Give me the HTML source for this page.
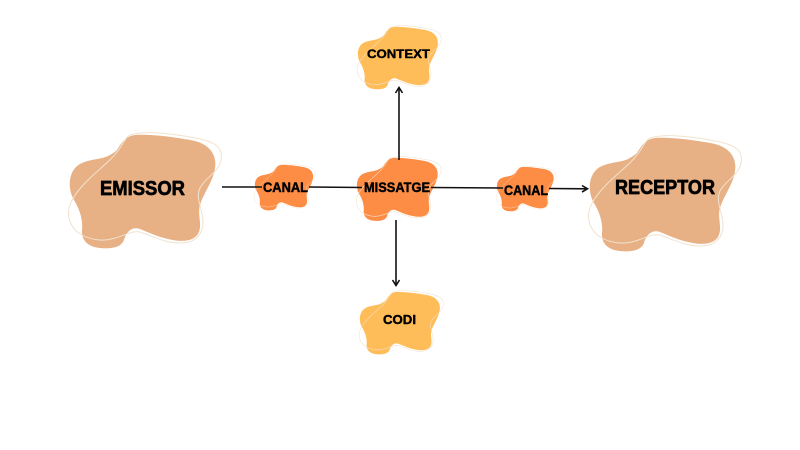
<!DOCTYPE html>
<html>
<head>
<meta charset="utf-8">
<style>
html,body{margin:0;padding:0;background:#fff;}
svg{display:block;}
text{font-family:"Liberation Sans",sans-serif;font-weight:bold;fill:#000;stroke:#000;stroke-linejoin:round;}
</style>
</head>
<body>
<svg width="800" height="450" viewBox="0 0 800 450" xmlns="http://www.w3.org/2000/svg">
<defs>
  <path id="fillBlob" d="M 117,150 C 122,142 126,136 135,135 C 150,134 175,137 195,141 C 210,145 217,155 215,168 C 213,182 204,192 200,205 C 197,215 203,225 198,234 C 193,242 180,242 168,239 C 158,237 150,233 140,229 C 132,226 126,232 124,240 C 121,248 110,249 100,248 C 88,247 81,240 82,230 C 83,220 80,210 74,200 C 68,190 68,175 76,167 C 84,159 100,160 108,156 C 112,154 115,152 117,150 Z"/>
  <path id="lineBlob" d="M 130,135 C 145,130 175,134 195,138 C 212,141 224,146 221,160 C 219,172 205,178 200,188 C 195,198 203,210 203,222 C 203,235 195,243 180,243 C 165,243 152,236 140,232 C 128,230 118,241 100,240 C 85,239 72,232 69,218 C 66,205 76,192 88,180 C 100,168 112,160 120,148 C 124,142 126,137 130,135 Z"/>
</defs>

<!-- EMISSOR -->
<g>
  <use href="#fillBlob" fill="#E8B185"/>
  <use href="#lineBlob" fill="none" stroke="#F1E2CF" stroke-width="1"/>
</g>
<!-- RECEPTOR -->
<g transform="translate(520,3)">
  <use href="#fillBlob" fill="#E8B185"/>
  <use href="#lineBlob" fill="none" stroke="#F1E2CF" stroke-width="1"/>
</g>
<!-- CANAL left -->
<g transform="translate(227,111) scale(0.4)">
  <use href="#fillBlob" fill="#FD8C44"/>
  <use href="#lineBlob" fill="none" stroke="#F1E2CF" stroke-width="1" vector-effect="non-scaling-stroke"/>
</g>
<!-- MISSATGE -->
<g transform="translate(318.2,83.1) scale(0.555)">
  <use href="#fillBlob" fill="#FD8C44"/>
  <use href="#lineBlob" fill="none" stroke="#F1E2CF" stroke-width="1" vector-effect="non-scaling-stroke"/>
</g>
<!-- CANAL right -->
<g transform="translate(469.7,114.4) scale(0.39)">
  <use href="#fillBlob" fill="#FD8C44"/>
  <use href="#lineBlob" fill="none" stroke="#F1E2CF" stroke-width="1" vector-effect="non-scaling-stroke"/>
</g>
<!-- CONTEXT -->
<g transform="translate(319.5,-47.3) scale(0.55)">
  <use href="#fillBlob" fill="#FFBD59"/>
  <use href="#lineBlob" fill="none" stroke="#F1E2CF" stroke-width="1" vector-effect="non-scaling-stroke"/>
</g>
<!-- CODI -->
<g transform="translate(321.5,217.8) scale(0.55)">
  <use href="#fillBlob" fill="#FFBD59"/>
  <use href="#lineBlob" fill="none" stroke="#F1E2CF" stroke-width="1" vector-effect="non-scaling-stroke"/>
</g>

<!-- connectors -->
<g stroke="#111" stroke-width="1.6" fill="none">
  <line x1="222" y1="187" x2="262" y2="187"/>
  <line x1="309" y1="187" x2="362" y2="187.5"/>
  <line x1="431" y1="187.5" x2="503" y2="188"/>
  <line x1="549" y1="188.5" x2="587" y2="188.8"/>
  <polyline points="582,185.5 587.5,188.8 582,192"/>
  <line x1="399" y1="160" x2="399" y2="88"/>
  <polyline points="395.5,93 399,87.5 402.5,93"/>
  <line x1="396" y1="220" x2="396" y2="285"/>
  <polyline points="392.5,280 396,285.5 399.5,280"/>
</g>

<!-- labels -->
<text x="100" y="195" font-size="20" stroke-width="0.7" textLength="85" lengthAdjust="spacingAndGlyphs">EMISSOR</text>
<text x="615" y="194" font-size="20" stroke-width="0.7" textLength="100" lengthAdjust="spacingAndGlyphs">RECEPTOR</text>
<text x="263" y="192" font-size="13.5" stroke-width="0.45" textLength="45" lengthAdjust="spacingAndGlyphs">CANAL</text>
<text x="364" y="192" font-size="13.5" stroke-width="0.45" textLength="66" lengthAdjust="spacingAndGlyphs">MISSATGE</text>
<text x="504" y="195" font-size="13.5" stroke-width="0.45" textLength="44" lengthAdjust="spacingAndGlyphs">CANAL</text>
<text x="367" y="58" font-size="12" stroke-width="0.4" textLength="63" lengthAdjust="spacingAndGlyphs">CONTEXT</text>
<text x="383" y="324" font-size="13" stroke-width="0.45" textLength="33" lengthAdjust="spacingAndGlyphs">CODI</text>
</svg>
</body>
</html>
